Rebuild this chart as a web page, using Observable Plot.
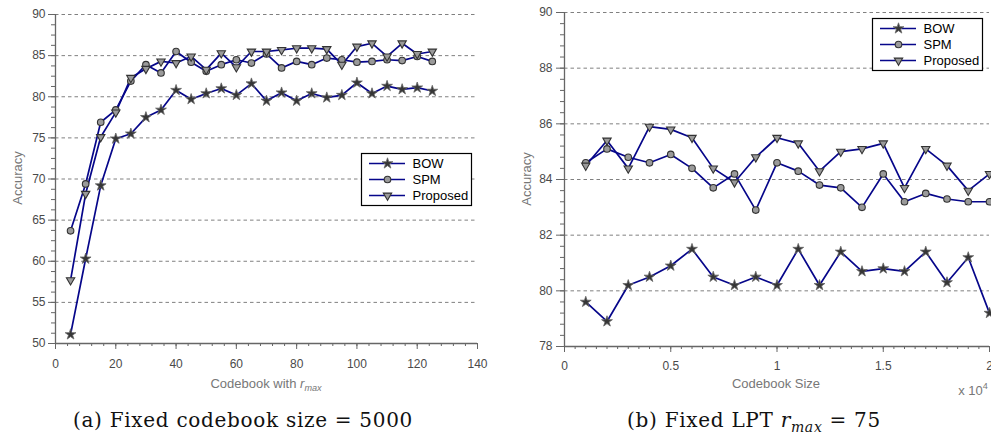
<!DOCTYPE html>
<html><head><meta charset="utf-8">
<script src="https://cdn.jsdelivr.net/npm/d3@7"></script>
<script src="https://cdn.jsdelivr.net/npm/@observablehq/plot@0.6"></script>
<style>
body{margin:0;background:#fff;}
#root{position:relative;width:991px;height:437px;overflow:hidden;font-family:"Liberation Sans",Arial,sans-serif;background:#fff;}
.abs{position:absolute;white-space:nowrap;line-height:1;}
.lbl{font-size:13px;color:#777;}
.cap{font-family:"DejaVu Serif","Liberation Serif",serif;font-size:20px;letter-spacing:0.7px;color:#111;}
sub{font-size:70%;vertical-align:-0.35em;line-height:0;}
sup{font-size:70%;vertical-align:0.6em;line-height:0;}
</style></head><body><div id="root"></div>
<script>
// ---- data ----
const seriesNames = ["BOW", "SPM", "Proposed"];

// (a) Fixed codebook size = 5000
const rmaxValues = [5,10,15,20,25,30,35,40,45,50,55,60,65,70,75,80,85,90,95,100,105,110,115,120,125];
const bowA  = [51.1,60.3,69.2,74.9,75.5,77.5,78.4,80.8,79.7,80.4,81.0,80.2,81.6,79.5,80.5,79.5,80.4,79.9,80.2,81.7,80.4,81.3,80.9,81.1,80.7];
const spmA  = [63.7,69.4,76.9,78.4,81.9,83.9,82.9,85.5,84.2,83.1,83.9,84.5,84.1,85.2,83.5,84.3,83.9,84.7,84.5,84.2,84.3,84.5,84.4,84.9,84.3];
const propA = [57.7,68.2,75.1,78.1,82.3,83.4,84.3,84.1,84.9,83.3,85.3,83.6,85.5,85.5,85.7,85.9,85.9,85.8,83.9,86.1,86.5,84.9,86.5,85.2,85.5];

// (b) Fixed LPT r_max = 75 ; codebook size in units of 10^4
const codebookSizes = [0.1,0.2,0.3,0.4,0.5,0.6,0.7,0.8,0.9,1.0,1.1,1.2,1.3,1.4,1.5,1.6,1.7,1.8,1.9,2.0];
const bowB  = [79.6,78.9,80.2,80.5,80.9,81.5,80.5,80.2,80.5,80.2,81.5,80.2,81.4,80.7,80.8,80.7,81.4,80.3,81.2,79.2];
const spmB  = [84.6,85.1,84.8,84.6,84.9,84.4,83.7,84.2,82.9,84.6,84.3,83.8,83.7,83.0,84.2,83.2,83.5,83.3,83.2,83.2];
const propB = [84.5,85.4,84.4,85.9,85.8,85.5,84.4,83.9,84.8,85.5,85.3,84.3,85.0,85.1,85.3,83.7,85.1,84.5,83.6,84.2];

// tick labels
const xTicksA = [0,20,40,60,80,100,120,140];
const yTicksA = [50,55,60,65,70,75,80,85,90];
const xTicksB = [0,0.5,1,1.5,2];
const yTicksB = [78,80,82,84,86,88,90];

// ---- styles ----
const NAVY = "#06068a";
const markerStyle = {
  BOW:      {symbol: "star",     r: 3.4, fill: "#363636", stroke: "#666", strokeWidth: 0.8, rotate: 0},
  SPM:      {symbol: "circle",   r: 3.3, fill: "#9a9a9a", stroke: "#333", strokeWidth: 1.1, rotate: 0},
  Proposed: {symbol: "triangle", r: 3.1, fill: "#9a9a9a", stroke: "#333", strokeWidth: 1.1, rotate: 180}
};

function seriesMarks(rows) {
  return seriesNames.map(s => Plot.dot(rows.filter(d => d.series === s), {x: "x", y: "y", ...markerStyle[s]}));
}

function panel(o) {
  const rows = seriesNames.flatMap((s, i) => o.x.map((xv, j) => ({series: s, x: xv, y: o.values[i][j]})));
  return Plot.plot({
    width: o.width, height: o.height,
    marginLeft: o.ml, marginRight: o.mr, marginTop: o.mt, marginBottom: o.mb,
    style: {overflow: "visible", background: "transparent", fontFamily: "Liberation Sans, Arial, sans-serif"},
    x: {domain: o.xDomain, axis: null},
    y: {domain: o.yDomain, axis: null},
    marks: [
      Plot.ruleY(o.yTicks.filter(v => v > o.yDomain[0]), {stroke: "#808080", strokeDasharray: "3.5,3", strokeWidth: 1}),
      Plot.axisY({ticks: o.yMinor, tickSize: 4, tickFormat: () => "", label: null, stroke: "#666"}),
      Plot.axisY({ticks: o.yTicks, tickSize: o.ytSize, tickPadding: o.ytPad, fontSize: 12, fill: "#4a4a4a", stroke: "#666", label: null}),
      Plot.axisX({ticks: o.xMinor, tickSize: 3, tickFormat: () => "", label: null, stroke: "#666"}),
      Plot.axisX({ticks: o.xTicks, tickSize: 6, tickPadding: o.xtPad, fontSize: 12, fill: "#4a4a4a", stroke: "#666", label: null, tickFormat: d => String(d)}),
      Plot.ruleX([o.xDomain[0]], {stroke: "#666", strokeWidth: 1.3}),
      Plot.ruleY([o.yDomain[0]], {stroke: "#666", strokeWidth: 1.3}),
      Plot.line(rows, {x: "x", y: "y", z: "series", stroke: NAVY, strokeWidth: 1.7}),
      ...seriesMarks(rows)
    ]
  });
}

function legend() {
  return Plot.plot({
    width: 110, height: 52, margin: 0,
    style: {overflow: "visible", background: "white", fontFamily: "Liberation Sans, Arial, sans-serif"},
    x: {domain: [0, 110], axis: null},
    y: {type: "point", domain: seriesNames, range: [10, 42], padding: 0, axis: null},
    marks: [
      Plot.frame({stroke: "#000", strokeWidth: 1.2, fill: "white"}),
      Plot.ruleY(seriesNames, {y: d => d, x1: 8, x2: 44, stroke: NAVY, strokeWidth: 1.7}),
      ...seriesNames.map(s => Plot.dot([s], {x: 26, y: d => d, ...markerStyle[s]})),
      Plot.text(seriesNames, {x: 51, y: d => d, text: d => d, textAnchor: "start", fontSize: 13, fill: "#000"})
    ]
  });
}

const root = document.getElementById("root");
function place(el, left, top) {
  el.style.position = "absolute"; el.style.left = left + "px"; el.style.top = top + "px";
  root.appendChild(el);
}
function addText(html, x, y, cls, extra) {
  const d = document.createElement("div");
  d.className = "abs " + cls;
  d.innerHTML = html;
  d.style.left = x + "px"; d.style.top = y + "px";
  d.style.transform = "translate(-50%,-50%)" + (extra || "");
  root.appendChild(d);
}

place(panel({
  x: rmaxValues, values: [bowA, spmA, propA],
  xDomain: [0, 140], yDomain: [50, 90],
  xTicks: xTicksA, yTicks: yTicksA,
  xMinor: d3.range(0, 141, 4), yMinor: d3.range(50, 90.01, 1.25),
  width: 495, height: 395, ml: 55, mr: 18, mt: 14, mb: 52,
  ytSize: 7, ytPad: 3, xtPad: 10
}), 0, 0);

place(panel({
  x: codebookSizes, values: [bowB, spmB, propB],
  xDomain: [0, 2], yDomain: [78, 90],
  xTicks: xTicksB, yTicks: yTicksB,
  xMinor: d3.range(0, 2.001, 0.05), yMinor: d3.range(78, 90.01, 0.4),
  width: 496, height: 395, ml: 69, mr: 2, mt: 12, mb: 49,
  ytSize: 8, ytPad: 4, xtPad: 9
}), 495, 0);

place(legend(), 361, 153);
place(legend(), 872, 18);

addText("Accuracy", 17, 178, "lbl", " rotate(-90deg)");
addText("Accuracy", 526, 179, "lbl", " rotate(-90deg)");
addText("Codebook with <i>r</i><sub><i>max</i></sub>", 266, 383, "lbl");
addText("Codebook Size", 776, 383, "lbl");
addText("x 10<sup>4</sup>", 973, 390, "lbl", "");
addText("(a) Fixed codebook size = 5000", 243, 420, "cap");
addText("(b) Fixed LPT <i>r<sub>max</sub></i> = 75", 754, 420, "cap");
</script></body></html>
